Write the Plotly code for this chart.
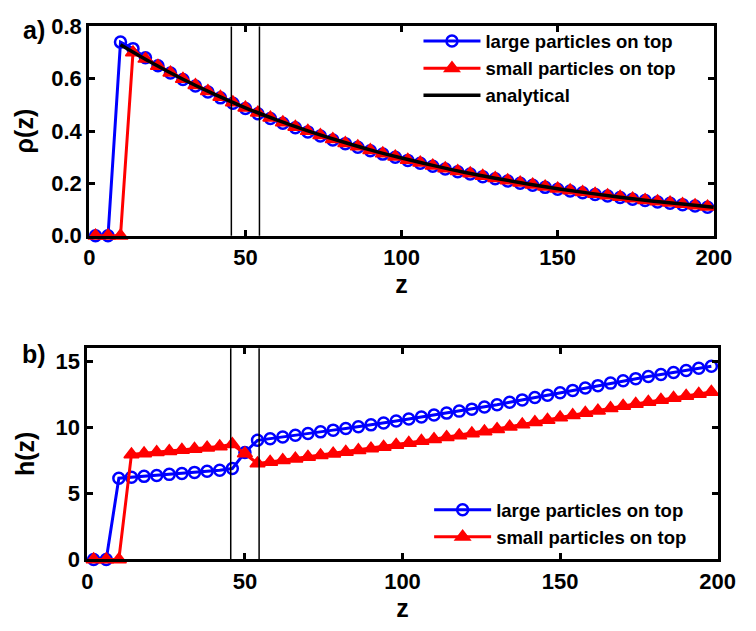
import plotly.graph_objects as go

# ---------------- data ----------------
z = [2, 6, 10, 14, 18, 22, 26, 30, 34, 38, 42, 46, 50, 54, 58, 62, 66, 70, 74, 78,
     82, 86, 90, 94, 98, 102, 106, 110, 114, 118, 122, 126, 130, 134, 138, 142,
     146, 150, 154, 158, 162, 166, 170, 174, 178, 182, 186, 190, 194, 198]

rho_large = [0, 0, 0.740, 0.715, 0.680, 0.650, 0.622, 0.597, 0.572, 0.549, 0.527,
             0.506, 0.486, 0.466, 0.448, 0.430, 0.413, 0.397, 0.381, 0.366, 0.352,
             0.338, 0.325, 0.312, 0.300, 0.288, 0.277, 0.266, 0.255, 0.245, 0.236,
             0.226, 0.218, 0.209, 0.201, 0.193, 0.185, 0.178, 0.171, 0.164, 0.158,
             0.152, 0.146, 0.140, 0.135, 0.129, 0.124, 0.119, 0.114, 0.109]

rho_small = [0, 0, 0, 0.700, 0.676, 0.649, 0.623, 0.599, 0.575, 0.552, 0.530,
             0.509, 0.489, 0.470, 0.451, 0.433, 0.416, 0.400, 0.384, 0.369, 0.354,
             0.341, 0.327, 0.314, 0.302, 0.290, 0.279, 0.268, 0.257, 0.247, 0.238,
             0.228, 0.220, 0.211, 0.203, 0.195, 0.187, 0.180, 0.173, 0.166, 0.160,
             0.154, 0.148, 0.142, 0.136, 0.131, 0.126, 0.121, 0.116, 0.111]

z_analytical = [10, 20, 30, 40, 50, 60, 70, 80, 90, 100, 110, 120, 130, 140, 150,
                160, 170, 180, 190, 200]
rho_analytical = [0.730, 0.661, 0.598, 0.541, 0.489, 0.443, 0.401, 0.363, 0.328,
                  0.297, 0.269, 0.243, 0.220, 0.199, 0.180, 0.163, 0.147, 0.133,
                  0.121, 0.109]

h_large = [0, 0, 6.15, 6.22, 6.29, 6.36, 6.44, 6.51, 6.59, 6.67, 6.76, 6.88, 8.10,
           9.02, 9.14, 9.27, 9.40, 9.53, 9.66, 9.79, 9.92, 10.05, 10.19, 10.33, 10.48,
           10.63, 10.78, 10.93, 11.08, 11.23, 11.38, 11.54, 11.72, 11.90, 12.08, 12.26,
           12.44, 12.62, 12.80, 12.98, 13.16, 13.35, 13.53, 13.69, 13.85, 14.00, 14.16,
           14.31, 14.47, 14.63]

h_small = [0, 0, 0, 7.95, 8.03, 8.11, 8.19, 8.28, 8.37, 8.46, 8.56, 8.72, 8.02,
           7.27, 7.38, 7.51, 7.63, 7.76, 7.88, 8.01, 8.13, 8.26, 8.39, 8.52, 8.67,
           8.81, 8.96, 9.10, 9.25, 9.39, 9.54, 9.69, 9.86, 10.04, 10.21, 10.39, 10.56,
           10.74, 10.91, 11.09, 11.26, 11.44, 11.62, 11.77, 11.93, 12.07, 12.23, 12.37,
           12.53, 12.68]

boundaries = [45.5, 54.5]

x_ticks = [0, 50, 100, 150, 200]
rho_ticks = [0, 0.2, 0.4, 0.6, 0.8]
h_ticks = [0, 5, 10, 15]

# ---------------- figure ----------------
W, H = 756, 631
FONT = "Liberation Sans, Arial, Helvetica, sans-serif"
BLUE = "#0000FF"
RED = "#FF0000"

fig = go.Figure()

circle = dict(symbol="circle-open", size=11, color=BLUE, line=dict(width=2.5, color=BLUE))
tri = dict(symbol="triangle-up", size=13, color=RED, line=dict(width=1.5, color=RED))

fig.add_trace(go.Scatter(x=z, y=rho_large, mode="lines+markers", name="large particles on top",
                         line=dict(color=BLUE, width=3), marker=circle, cliponaxis=False,
                         xaxis="x", yaxis="y", legend="legend"))
fig.add_trace(go.Scatter(x=z, y=rho_small, mode="lines+markers", name="small particles on top",
                         line=dict(color=RED, width=3), marker=tri, cliponaxis=False,
                         xaxis="x", yaxis="y", legend="legend"))
fig.add_trace(go.Scatter(x=z_analytical, y=rho_analytical, mode="lines", name="analytical",
                         line=dict(color="black", width=3.5, shape="spline"),
                         xaxis="x", yaxis="y", legend="legend"))

fig.add_trace(go.Scatter(x=z, y=h_large, mode="lines+markers", name="large particles on top",
                         line=dict(color=BLUE, width=3), marker=circle, cliponaxis=False,
                         xaxis="x2", yaxis="y2", legend="legend2"))
fig.add_trace(go.Scatter(x=z, y=h_small, mode="lines+markers", name="small particles on top",
                         line=dict(color=RED, width=3), marker=tri, cliponaxis=False,
                         xaxis="x2", yaxis="y2", legend="legend2"))

tickfont = dict(family=FONT, size=22, color="black", weight="bold")
titlefont = dict(family=FONT, size=25, color="black", weight="bold")
legfont = dict(family=FONT, size=18.5, color="black", weight="bold")
common = dict(showline=True, linecolor="black", linewidth=3, mirror="ticks",
              ticks="inside", ticklen=6, tickwidth=2.5, tickcolor="black",
              showgrid=False, zeroline=False, tickfont=tickfont)


def px_x(p):
    return p / W


def px_y(p):
    return 1 - p / H


fig.update_layout(
    width=W, height=H,
    margin=dict(l=0, r=0, t=0, b=0),
    paper_bgcolor="white", plot_bgcolor="white",
    font=dict(family=FONT, color="black"),
    xaxis=dict(domain=[px_x(86), px_x(731)], range=[0, 200], tickvals=x_ticks,
               anchor="y", title=dict(text="z", font=titlefont, standoff=6), **common),
    yaxis=dict(domain=[px_y(233), px_y(15)], range=[0, 0.8], tickvals=rho_ticks,
               tickformat=".1f", anchor="x",
               title=dict(text="ρ(z)", font=titlefont, standoff=11), **common),
    xaxis2=dict(domain=[px_x(84), px_x(735)], range=[0, 200], tickvals=x_ticks,
                anchor="y2", title=dict(text="z", font=titlefont, standoff=6), **common),
    yaxis2=dict(domain=[px_y(570), px_y(350)], range=[0, 16], tickvals=h_ticks,
                anchor="x2", title=dict(text="h(z)", font=titlefont, standoff=14), **common),
    legend=dict(x=px_x(426), y=px_y(11), xanchor="left", yanchor="top",
                bgcolor="rgba(0,0,0,0)", borderwidth=0, itemwidth=57,
                font=legfont, tracegroupgap=0),
    legend2=dict(x=px_x(437), y=px_y(499), xanchor="left", yanchor="top",
                 bgcolor="rgba(0,0,0,0)", borderwidth=0, itemwidth=57,
                 font=legfont, tracegroupgap=0),
    showlegend=True,
)

for xa, ya in [("x", "y"), ("x2", "y2")]:
    for b in boundaries:
        fig.add_shape(type="line", xref=xa, yref=f"{ya} domain", x0=b, x1=b, y0=0, y1=1,
                      line=dict(color="black", width=1.5))

fig.add_annotation(text="a)", xref="paper", yref="paper", x=px_x(15), y=px_y(19),
                   xanchor="left", yanchor="middle", showarrow=False,
                   font=dict(family=FONT, size=25, color="black", weight="bold"))
fig.add_annotation(text="b)", xref="paper", yref="paper", x=px_x(14), y=px_y(356),
                   xanchor="left", yanchor="middle", showarrow=False,
                   font=dict(family=FONT, size=25, color="black", weight="bold"))

fig.write_html("out.html")
